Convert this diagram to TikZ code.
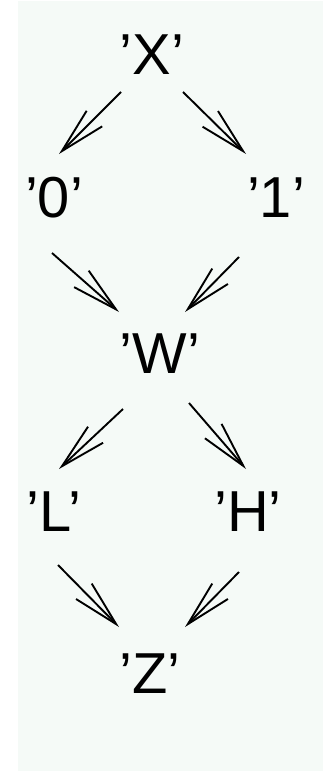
\documentclass[tikz,border=0pt]{standalone}
\usepackage{fontspec}
\setmainfont{Liberation Sans}
\usetikzlibrary{arrows.meta,calc}
\definecolor{TreeBg}{HTML}{F5FAF7}
\definecolor{TreeInk}{HTML}{000000}
\tikzset{
  symbol/.style={font=\fontsize{58}{60}\selectfont\color{TreeInk},
                 inner sep=0pt, anchor=center},
  flow/.style={-{Straight Barb[length=46bp,width=22bp]}, line width=1.9bp, TreeInk},
}

\begin{document}
\begin{tikzpicture}[x=1bp,y=-1bp]

  % ---- Canvas ----
  \useasboundingbox (0,0) rectangle (327,772);
  \fill[TreeBg] (18,1) rectangle (323,771);

  % ---- Symbols ----
  \node[symbol] (sX) at (152,55)  {'X'};
  \node[symbol] (s0) at (54,198)  {'0'};
  \node[symbol] (s1) at (276,198) {'1'};
  \node[symbol] (sW) at (160,354) {'W'};
  \node[symbol] (sL) at (54,512)  {'L'};
  \node[symbol] (sH) at (248,512) {'H'};
  \node[symbol] (sZ) at (150,674) {'Z'};

  % ---- Arrows ----
  \draw[flow] ($(sX)+(-31,37)$) -- ($(s0)+(5,-44)$);
  \draw[flow] ($(sX)+(31,37)$)  -- ($(s1)+(-30,-44)$);
  \draw[flow] ($(s0)+(-2,55)$)  -- ($(sW)+(-41,-42)$);
  \draw[flow] ($(s1)+(-37,59)$) -- ($(sW)+(25,-42)$);
  \draw[flow] ($(sW)+(-37,55)$) -- ($(sL)+(5,-43)$);
  \draw[flow] ($(sW)+(29,49)$)  -- ($(sH)+(-2,-43)$);
  \draw[flow] ($(sL)+(4,53)$)   -- ($(sZ)+(-31,-47)$);
  \draw[flow] ($(sH)+(-9,60)$)  -- ($(sZ)+(35,-47)$);

\end{tikzpicture}
\end{document}
